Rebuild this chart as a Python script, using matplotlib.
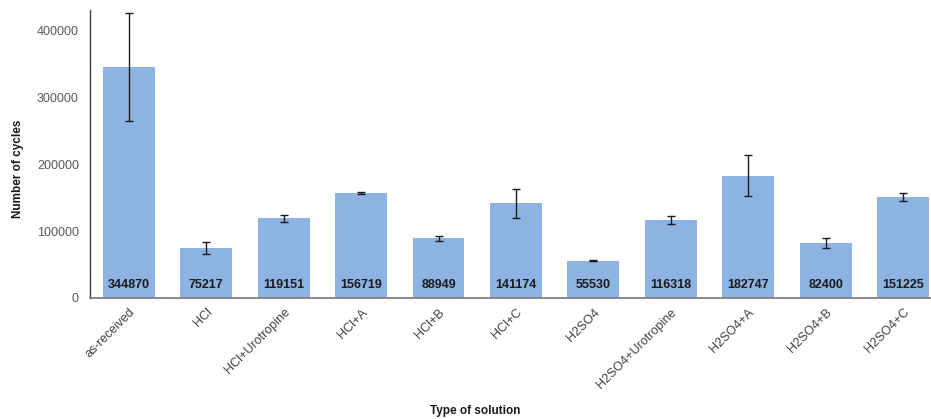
import numpy as np
import matplotlib.pyplot as plt

plt.rcParams['font.family'] = ['Liberation Sans', 'DejaVu Sans']

solutions = ['as-received', 'HCl', 'HCl+Urotropine', 'HCl+A', 'HCl+B', 'HCl+C',
             'H2SO4', 'H2SO4+Urotropine', 'H2SO4+A', 'H2SO4+B', 'H2SO4+C']
cycles = [344870, 75217, 119151, 156719, 88949, 141174,
          55530, 116318, 182747, 82400, 151225]
errors = [81000, 9000, 5000, 1200, 3200, 21000,
          800, 6500, 30400, 7200, 5700]

fig = plt.figure(figsize=(9.31, 4.19), dpi=100)
ax = fig.add_axes([0.0967, 0.2888, 0.915, 0.687])

x = np.arange(len(solutions))
ax.bar(x, cycles, width=0.67, color='#8DB3E2', zorder=2)
ax.errorbar(x, cycles, yerr=errors, fmt='none', ecolor='#1a1a1a',
            elinewidth=1, capsize=3, capthick=1, zorder=3)

# value labels sit at the foot of each bar
for xi, v in zip(x, cycles):
    ax.annotate(str(v), (xi, 0), xytext=(0, 5), textcoords='offset points',
                ha='center', va='bottom', fontsize=9, fontweight='bold',
                color='#1a1a1a', zorder=4)

ax.set_xlim(-0.5, len(solutions) - 0.5)
ax.set_ylim(0, 430000)
ax.set_yticks(np.arange(0, 400001, 100000))
ax.tick_params(axis='y', length=0, pad=8, labelsize=9, labelcolor='#595959')
ax.tick_params(axis='x', length=0, pad=6, labelsize=9, labelcolor='#404040')
ax.set_xticks(x)
ax.set_xticklabels(solutions, rotation=45, ha='right', rotation_mode='anchor')

for side in ['top', 'right']:
    ax.spines[side].set_visible(False)
ax.spines['left'].set_color('#404040')
ax.spines['left'].set_linewidth(1)
ax.spines['bottom'].set_color('#808080')
ax.spines['bottom'].set_linewidth(1.3)

ax.set_ylabel('Number of cycles', fontsize=8.5, fontweight='bold', color='#1a1a1a')
ax.set_xlabel('Type of solution', fontsize=8.5, fontweight='bold', color='#1a1a1a')
ax.yaxis.set_label_coords(-0.078, 0.45)
ax.xaxis.set_label_coords(0.452, -0.371)

fig.savefig('out.png', dpi=100)
